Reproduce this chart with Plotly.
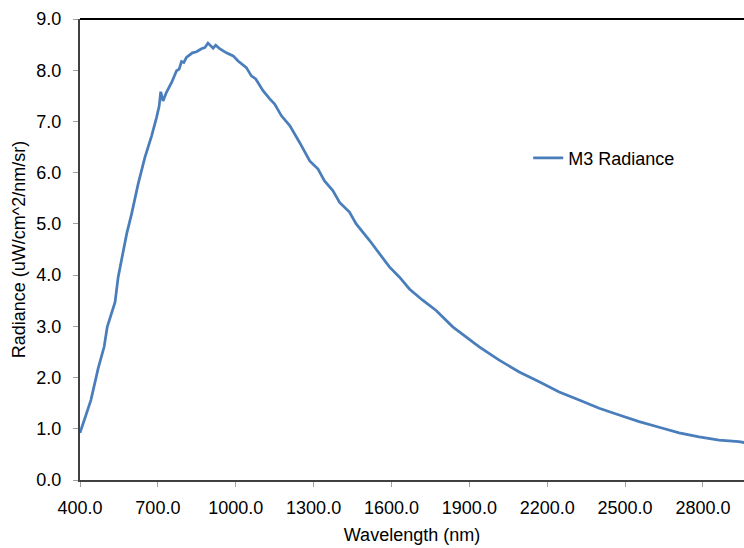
import plotly.graph_objects as go

wavelength_nm = [400, 442, 470, 493, 505, 535, 547, 560, 580, 599, 624, 650, 676, 695,
                 705, 711, 720, 733, 753, 772, 782, 791, 800, 810, 833, 849, 868, 881,
                 893, 913, 923, 938, 964, 990, 1009, 1041, 1060, 1077, 1105, 1131, 1150,
                 1176, 1208, 1246, 1285, 1317, 1342, 1374, 1400, 1438, 1464, 1515, 1554,
                 1592, 1631, 1669, 1720, 1772, 1836, 1887, 1938, 2015, 2092, 2169, 2246,
                 2323, 2400, 2477, 2554, 2631, 2708, 2785, 2862, 2938, 2960]
radiance = [0.92, 1.56, 2.18, 2.60, 2.99, 3.47, 3.96, 4.29, 4.81, 5.20, 5.78, 6.30, 6.72, 7.08,
            7.30, 7.58, 7.40, 7.57, 7.76, 7.99, 8.02, 8.17, 8.15, 8.25, 8.34, 8.36, 8.42, 8.44,
            8.53, 8.43, 8.49, 8.42, 8.34, 8.28, 8.18, 8.05, 7.89, 7.83, 7.60, 7.44, 7.34,
            7.11, 6.92, 6.59, 6.23, 6.07, 5.84, 5.65, 5.42, 5.23, 5.00, 4.68, 4.42,
            4.16, 3.96, 3.73, 3.51, 3.31, 2.99, 2.79, 2.60, 2.34, 2.11, 1.92, 1.72,
            1.56, 1.40, 1.27, 1.14, 1.03, 0.92, 0.84, 0.78, 0.75, 0.73]
series_name = "M3 Radiance"
x_ticks = [400, 700, 1000, 1300, 1600, 1900, 2200, 2500, 2800]
y_ticks = [0, 1, 2, 3, 4, 5, 6, 7, 8, 9]

FONT = "Liberation Sans, Arial, sans-serif"
FS = 18

fig = go.Figure()
fig.add_trace(go.Scatter(x=wavelength_nm, y=radiance, mode="lines", name=series_name,
                         line=dict(color="#4a7ebb", width=2.75)))

fig.update_layout(
    width=744, height=548,
    margin=dict(l=80, r=0, t=19, b=68),
    paper_bgcolor="white", plot_bgcolor="white",
    font=dict(family=FONT, size=FS, color="black"),
    showlegend=True,
    legend=dict(x=0.675, y=0.698, xanchor="left", yanchor="middle",
                bgcolor="rgba(0,0,0,0)", font=dict(family=FONT, size=FS, color="black")),
    xaxis=dict(range=[400, 2958], tickvals=x_ticks, tickformat=".1f", automargin=False,
               showgrid=False, zeroline=False, showline=True, linecolor="#404040", linewidth=2,
               ticks="outside", ticklen=5, tickcolor="#a0a0a0", tickwidth=1,
               ticklabelstandoff=5,
               title=dict(text="Wavelength (nm)", standoff=12, font=dict(size=FS))),
    yaxis=dict(range=[0, 9], tickvals=y_ticks, tickformat=".1f", automargin=False,
               showgrid=False, zeroline=False, showline=True, linecolor="#404040", linewidth=2,
               ticks="outside", ticklen=5, tickcolor="#a0a0a0", tickwidth=1,
               ticklabelstandoff=8,
               title=dict(text="Radiance (uW/cm^2/nm/sr)", standoff=6, font=dict(size=FS))),
    shapes=[dict(type="line", xref="paper", yref="paper", x0=0, x1=1, y0=1, y1=1,
                 line=dict(color="black", width=2))],
)

fig.write_html("out.html", config={"displayModeBar": False},
               post_script="document.body.style.margin='0';document.body.style.overflow='hidden';")
